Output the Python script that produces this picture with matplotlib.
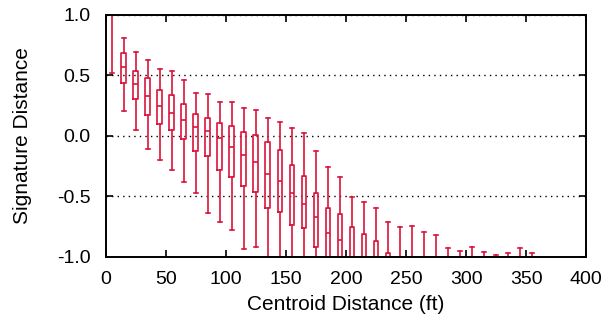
import matplotlib
matplotlib.use('Agg')
import matplotlib.pyplot as plt

plt.rcParams['font.family'] = ['Liberation Sans', 'DejaVu Sans']

# bin centres (ft) and box statistics
centroid_ft = [5, 15, 25, 35, 45, 55, 65, 75, 85, 95, 105, 115, 125, 135, 145, 155,
               165, 175, 185, 195, 205, 215, 225, 235, 245, 255, 265, 275, 285, 295,
               305, 315, 325, 335, 345, 355]
whis_hi = [1.0, 0.81, 0.694, 0.63, 0.556, 0.535, 0.46, 0.353, 0.344, 0.281, 0.278, 0.229,
           0.215, 0.149, 0.118, 0.069, 0.022, -0.127, -0.259, -0.336, -0.501, -0.548,
           -0.592, -0.711, -0.755, -0.747, -0.79, -0.821, -0.923, -0.953, -0.915, -0.961,
           -0.98, -0.97, -0.926, -0.97]
q3 = [1.0, 0.683, 0.537, 0.479, 0.378, 0.336, 0.267, 0.184, 0.149, 0.11, 0.08, 0.033,
      0.006, -0.052, -0.113, -0.242, -0.328, -0.474, -0.598, -0.645, -0.755, -0.812,
      -0.868, -0.97] + [-1.0] * 12
median = [1.0, 0.573, 0.432, 0.33, 0.245, 0.193, 0.132, 0.074, 0.039, -0.017, -0.093,
          -0.155, -0.215, -0.317, -0.369, -0.469, -0.559, -0.667, -0.804, -0.857] + [-1.0] * 16
q1 = [1.0, 0.44, 0.303, 0.176, 0.099, 0.052, -0.027, -0.127, -0.165, -0.278, -0.336,
      -0.411, -0.463, -0.592, -0.631, -0.733, -0.763, -0.92] + [-1.0] * 18
whis_lo = [0.52, 0.21, 0.047, -0.107, -0.20, -0.278, -0.383, -0.474, -0.639, -0.708,
           -0.777, -0.931, -0.917] + [-1.0] * 23

stats = []
for i in range(len(centroid_ft)):
    stats.append({'whislo': whis_lo[i], 'q1': q1[i], 'med': median[i],
                  'q3': q3[i], 'whishi': whis_hi[i], 'fliers': []})

color = '#dc143c'
fig = plt.figure(figsize=(6.08, 3.24), dpi=100)
ax = fig.add_axes([0.174, 0.207, 0.79, 0.747])

lp = dict(color=color, linewidth=1.2)
ax.bxp(stats, positions=centroid_ft, widths=4.0, capwidths=3.5, showfliers=False,
       boxprops=lp, whiskerprops=lp, capprops=lp, medianprops=lp, manage_ticks=False)

ax.set_xlim(0, 400)
ax.set_ylim(-1.0, 1.0)
ax.set_xticks([0, 50, 100, 150, 200, 250, 300, 350, 400])
ax.set_yticks([-1.0, -0.5, 0.0, 0.5, 1.0])
ax.set_yticklabels(['-1.0', '-0.5', '0.0', '0.5', '1.0'])
ax.yaxis.grid(True, linestyle=(0, (1, 3)), color='black', linewidth=1.0)
ax.tick_params(direction='in', length=5, width=1.2, labelsize=14,
               top=True, right=True)
ax.tick_params(axis='y', pad=11)
ax.tick_params(axis='x', pad=10)
for s in ax.spines.values():
    s.set_linewidth(1.4)

ax.set_xlabel('Centroid Distance (ft)', fontsize=15, labelpad=5)
ax.set_ylabel('Signature Distance', fontsize=15, labelpad=18)

fig.savefig('out.png', dpi=100)
